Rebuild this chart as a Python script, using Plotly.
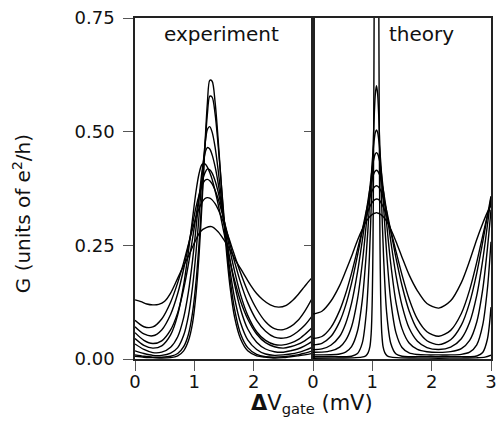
import plotly.graph_objects as go

# ---------------- experiment panel data ----------------
exp_x = [0, 0.15, 0.3, 0.45, 0.6, 0.72, 0.82, 0.9, 0.97, 1.03, 1.08, 1.13, 1.18, 1.22,
         1.26, 1.3, 1.35, 1.4, 1.46, 1.53, 1.6, 1.68, 1.78, 1.9, 2.05, 2.2, 2.35, 2.5,
         2.62, 2.74, 2.86, 3.0]

exp1_x = [0, 0.1, 0.2, 0.3, 0.4, 0.5, 0.6, 0.7, 0.8, 0.9, 1.0, 1.1, 1.2, 1.29, 1.4, 1.5,
          1.6, 1.7, 1.83, 1.95, 2.05, 2.15, 2.28, 2.42, 2.55, 2.65, 2.75, 2.85, 2.95, 3.0]
exp1 = [.130, .126, .121, .119, .120, .127, .145, .172, .200, .226, .255, .280, .289, .291,
        .280, .262, .240, .216, .188, .162, .144, .131, .119, .114, .118, .128, .142, .158,
        .174, .181]

exp2 = [.085, .071, .0705, .088, .125, .168, .212, .252, .286, .313, .331, .345, .353, .355,
        .354, .350, .3415, .3295, .311, .286, .259, .227, .189, .149, .110, .082, .067, .0645,
        .071, .084, .105, .137]
exp3 = [.071, .055, .051, .064, .098, .144, .198, .249, .296, .335, .361, .382, .393, .395,
        .392, .385, .371, .353, .325, .290, .253, .213, .168, .124, .085, .061, .048, .046,
        .050, .060, .074, .097]
exp4 = [.058, .041, .034, .040, .064, .102, .154, .208, .265, .316, .356, .389, .410, .418,
        .416, .409, .392, .368, .332, .286, .240, .192, .141, .096, .060, .041, .032, .031,
        .035, .042, .054, .071]
exp5 = [.045, .030, .024, .029, .053, .097, .163, .236, .309, .370, .408, .428, .429, .422,
        .410, .395, .370, .341, .303, .258, .216, .172, .127, .088, .055, .036, .027, .024,
        .027, .032, .040, .053]
exp6 = [.033, .021, .014, .015, .026, .049, .091, .147, .217, .290, .355, .413, .453, .465,
        .462, .449, .423, .388, .337, .276, .219, .163, .109, .066, .037, .022, .016, .015,
        .018, .022, .029, .040]
exp7 = [.018, .012, .008, .008, .013, .025, .052, .095, .159, .237, .316, .400, .471, .505,
        .511, .499, .466, .417, .348, .267, .196, .133, .079, .042, .021, .011, .008, .009,
        .011, .014, .019, .026]
exp8 = [.009, .006, .004, .004, .006, .012, .027, .054, .102, .172, .255, .359, .468, .539,
        .578, .576, .539, .472, .376, .267, .179, .108, .055, .025, .010, .005, .004, .005,
        .007, .009, .013, .018]
exp9 = [.006, .004, .003, .002, .003, .007, .018, .040, .079, .145, .230, .343, .473, .563,
        .613, .611, .565, .485, .373, .253, .161, .091, .044, .018, .007, .004, .002, .003,
        .005, .007, .009, .013]

# ---------------- theory panel data ----------------
th_x = [0, 0.15, 0.3, 0.45, 0.55, 0.65, 0.75, 0.83, 0.9, 0.95, 0.99, 1.02, 1.05, 1.07,
        1.09, 1.12, 1.15, 1.19, 1.24, 1.31, 1.4, 1.5, 1.62, 1.76, 1.92, 2.12, 2.32, 2.5,
        2.64, 2.76, 2.86, 2.94, 3.0]

th1 = [.099, .105, .127, .162, .193, .226, .261, .285, .303, .312, .317, .320, .321, .322,
       .321, .320, .317, .312, .303, .286, .258, .224, .185, .150, .122, .112, .128, .168,
       .216, .263, .298, .323, .338]
th2 = [.045, .0495, .069, .107, .1435, .189, .241, .283, .315, .333, .343, .348, .351, .352,
       .3515, .349, .343, .333, .315, .283, .236, .185, .132, .0876, .060, .050, .063, .100,
       .152, .213, .271, .316, .345]
th3 = [.031, .0345, .0493, .0823, .118, .167, .228, .282, .327, .352, .368, .376, .380, .381,
       .380, .376, .368, .352, .327, .282, .2215, .1616, .1057, .0644, .0402, .0316, .0423,
       .0744, .124, .189, .257, .316, .358]
th4 = [.0206, .0222, .0303, .050, .0778, .123, .191, .260, .325, .367, .392, .406, .4135, .415,
       .4135, .406, .392, .367, .325, .260, .183, .118, .068, .039, .0252, .0208, .026, .0446,
       .0806, .140, .217, .295, .356]
th5 = [.0148, .0151, .0177, .0262, .0408, .0708, .1315, .210, .2996, .3664, .4118, .437, .4512,
       .454, .4512, .437, .4118, .3664, .2996, .210, .1236, .0668, .0351, .021, .016, .0146,
       .0162, .023, .0411, .0815, .1525, .2434, .328]
th6 = [.009, .0091, .0094, .011, .0151, .0273, .0615, .129, .235, .335, .418, .468, .498, .504,
       .498, .468, .418, .335, .235, .129, .0568, .0254, .0134, .0099, .009, .009, .009, .0103,
       .0151, .0313, .0744, .155, .258]
th7 = [.005, .005, .005, .005, .005, .0061, .012, .0348, .104, .223, .370, .493, .582, .601,
       .582, .493, .370, .223, .104, .0348, .0109, .006, .005, .005, .005, .005, .005, .005,
       .005, .0066, .0144, .044, .114]

th8_x = [0, 0.37, 0.67, 0.82, 0.89, 0.93, 0.96, 0.98, 0.99, 1.0, 1.01, 1.02, 1.03, 1.05, 1.07,
         1.09, 1.11, 1.12, 1.13, 1.14, 1.15, 1.16, 1.18, 1.21, 1.25, 1.32, 1.47, 1.77, 2.12,
         2.5, 2.75, 2.9, 3.0]
th8 = [.0018, .002, .0025, .004, .007, .014, .028, .055, .085, .14, .24, .42, .75, 2.0, 3.0,
       2.0, .75, .42, .24, .14, .085, .055, .028, .014, .007, .004, .0025, .002, .0018,
       .002, .0025, .004, .0085]

x_ticks_left = [0, 1, 2]
x_ticks_right = [0, 1, 2, 3]
y_ticks = [0, 0.25, 0.5, 0.75]
y_ticktext = ["0.00", "0.25", "0.50", "0.75"]

FONT = "DejaVu Sans"
line_style = dict(color="black", width=1.4, shape="spline", smoothing=0.8)

fig = go.Figure()

exp_series = [(exp1_x, exp1), (exp_x, exp2), (exp_x, exp3), (exp_x, exp4), (exp_x, exp5),
              (exp_x, exp6), (exp_x, exp7), (exp_x, exp8), (exp_x, exp9)]
for xs, ys in exp_series:
    fig.add_trace(go.Scatter(x=xs, y=ys, mode="lines", line=line_style,
                             xaxis="x", yaxis="y", showlegend=False, hoverinfo="skip"))

th_series = [(th_x, th1), (th_x, th2), (th_x, th3), (th_x, th4), (th_x, th5),
             (th_x, th6), (th_x, th7), (th8_x, th8)]
for xs, ys in th_series:
    fig.add_trace(go.Scatter(x=xs, y=ys, mode="lines", line=line_style,
                             xaxis="x2", yaxis="y2", showlegend=False, hoverinfo="skip"))

axis_common = dict(showline=True, linecolor="#222", linewidth=1.5, mirror=True,
                   showgrid=False, zeroline=False, ticks="outside", tickwidth=1,
                   tickcolor="#555", ticklabeloverflow="allow",
                   tickfont=dict(family=FONT, size=18, color="#111"))

fig.update_layout(
    width=496, height=434,
    margin=dict(l=135, r=5, t=18, b=75, autoexpand=False),
    paper_bgcolor="white", plot_bgcolor="white",
    font=dict(family=FONT, color="#111"),
    xaxis=dict(domain=[0, 0.5], range=[0, 3], tickmode="array", tickvals=x_ticks_left,
               ticktext=[str(v) for v in x_ticks_left], ticklen=10, anchor="y",
               ticklabelstandoff=-4, **axis_common),
    xaxis2=dict(domain=[0.5, 1], range=[0, 3], tickmode="array", tickvals=x_ticks_right,
                ticktext=[str(v) for v in x_ticks_right], ticklen=10, anchor="y2",
                ticklabelstandoff=-4, **axis_common),
    yaxis=dict(domain=[0, 1], range=[0, 0.75], tickmode="array", tickvals=y_ticks,
               ticktext=y_ticktext, ticklen=10, anchor="x", ticklabelstandoff=5,
               **axis_common),
    yaxis2=dict(domain=[0, 1], range=[0, 0.75], tickmode="array", tickvals=[0.25, 0.5],
                ticklen=7, anchor="x2", showticklabels=False, **axis_common),
    annotations=[
        dict(text="experiment", x=0.2416, y=0.953, xref="paper", yref="paper",
             showarrow=False, xanchor="center", yanchor="middle",
             font=dict(family=FONT, size=20, color="#111")),
        dict(text="theory", x=0.805, y=0.953, xref="paper", yref="paper",
             showarrow=False, xanchor="center", yanchor="middle",
             font=dict(family=FONT, size=20, color="#111")),
        dict(text="<b>Δ</b>V<sub>gate</sub> (mV)", x=0.497, y=-0.087, xref="paper",
             yref="paper", showarrow=False, xanchor="center", yanchor="top",
             font=dict(family=FONT, size=21, color="#111")),
        dict(text="G (units of e<sup>2</sup>/h)", x=-0.317, y=0.425, xref="paper",
             yref="paper", showarrow=False, xanchor="center", yanchor="middle",
             textangle=-90, font=dict(family=FONT, size=20, color="#111")),
    ],
)

# remove the default page margin so the 496x434 figure fills the window exactly
fig.write_html(
    "out.html",
    config={"displayModeBar": False},
    post_script="document.body.style.margin='0';document.body.style.padding='0';"
                "document.documentElement.style.overflow='hidden';",
)
